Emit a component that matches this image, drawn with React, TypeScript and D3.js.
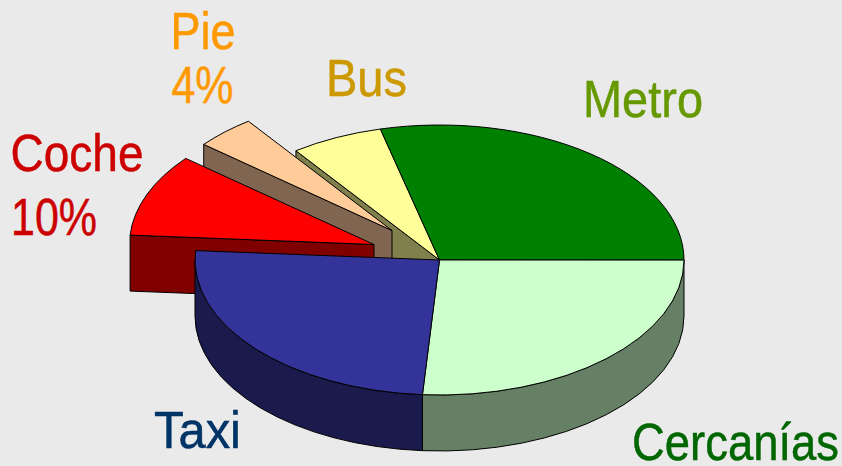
import React from "react";
import * as d3 from "d3";

const categories = ["Metro", "Cercanías", "Taxi", "Coche", "Pie", "Bus"];
const shares = [28.9, 26.1, 25, 9.9, 4, 6.1];
const topColors = ["#008000", "#CCFFCC", "#333399", "#FF0000", "#FFCC99", "#FFFF99"];
const sideColors = ["#004000", "#668066", "#1A1A4D", "#800000", "#806650", "#80804D"];
const labelLines = [["Metro"], ["Cercanías"], ["Taxi"], ["Coche", "10%"], ["Pie", "4%"], ["Bus"]];
const labelColors = ["#669900", "#006600", "#003366", "#CC0000", "#FF9900", "#CC9900"];

const W = 842, H = 466;
const cx = 439.5, cy = 260, rx = 244.5, ry = 135, depth = 56;
const explode: Record<string, [number, number]> = { Coche: [-65.5, -15.5], Pie: [-47.5, -29.5] };
// x, baseline y of each line, and fitted line width
const labelLayout: Record<string, [number, number, number][]> = {
  Metro: [[583, 117, 120]],
  "Cercanías": [[632, 460, 207]],
  Taxi: [[154, 448, 87]],
  Coche: [[10.5, 171, 133], [11, 235, 86]],
  Pie: [[170.5, 49, 65], [171.5, 103, 62]],
  Bus: [[326, 96, 81]],
};
const drawOrder = ["Bus", "Metro", "Pie", "Coche", "Cercanías", "Taxi"];

const startAngle = (256 * Math.PI) / 180;
const arcs = d3
  .pie<number>()
  .sort(null)
  .startAngle(startAngle)
  .endAngle(startAngle + 2 * Math.PI)(shares);

const pt = (c: [number, number], t: number, dy = 0): [number, number] => [
  c[0] + rx * Math.cos(t),
  c[1] + ry * Math.sin(t) + dy,
];
const f = (p: [number, number]) => `${p[0].toFixed(2)} ${p[1].toFixed(2)}`;

function wedge(c: [number, number], a0: number, a1: number) {
  const large = a1 - a0 > Math.PI ? 1 : 0;
  return `M${f(c)}L${f(pt(c, a0))}A${rx} ${ry} 0 ${large} 1 ${f(pt(c, a1))}Z`;
}
// Outer rim, only the part facing the viewer (0..PI on the parameter circle)
function rim(c: [number, number], a0: number, a1: number) {
  const two = 2 * Math.PI;
  let s = a0 % two;
  let e = s + (a1 - a0);
  s = Math.max(s, 0);
  e = Math.min(e, Math.PI);
  if (e <= s) return null;
  return `M${f(pt(c, s))}A${rx} ${ry} 0 0 1 ${f(pt(c, e))}L${f(pt(c, e, depth))}A${rx} ${ry} 0 0 0 ${f(pt(c, s, depth))}Z`;
}
// Radial wall seen from the front-left
function wall(c: [number, number], a: number) {
  const p = pt(c, a);
  return `M${f(p)}L${f(c)}L${c[0]} ${c[1] + depth}L${p[0].toFixed(2)} ${(p[1] + depth).toFixed(2)}Z`;
}

export default function App() {
  return (
    <svg
      width={W}
      height={H}
      viewBox={`0 0 ${W} ${H}`}
      style={{ position: "absolute", left: 0, top: 0, display: "block" }}
    >
      <rect width={W} height={H} fill="#EAEAEA" />
      <g stroke="#000" strokeWidth={1} strokeLinejoin="round">
        {drawOrder.map((name) => {
          const i = categories.indexOf(name);
          const a = arcs[i];
          const off = explode[name] ?? [0, 0];
          const c: [number, number] = [cx + off[0], cy + off[1]];
          const r = rim(c, a.startAngle, a.endAngle);
          const hasWall = name === "Coche" || name === "Pie" || name === "Bus";
          return (
            <g key={name}>
              {hasWall && <path d={wall(c, a.startAngle)} fill={sideColors[i]} />}
              {r && <path d={r} fill={sideColors[i]} />}
              <path d={wedge(c, a.startAngle, a.endAngle)} fill={topColors[i]} />
            </g>
          );
        })}
      </g>
      <g fontFamily="'Liberation Sans',Arial,sans-serif" fontSize={52} strokeWidth={0.5}>
        {categories.map((name, i) =>
          labelLines[i].map((l, j) => {
            const [x, y, w] = labelLayout[name][j];
            return (
              <text key={l} x={x} y={y} fill={labelColors[i]} stroke={labelColors[i]} textLength={w} lengthAdjust="spacingAndGlyphs">
                {l}
              </text>
            );
          })
        )}
      </g>
    </svg>
  );
}
